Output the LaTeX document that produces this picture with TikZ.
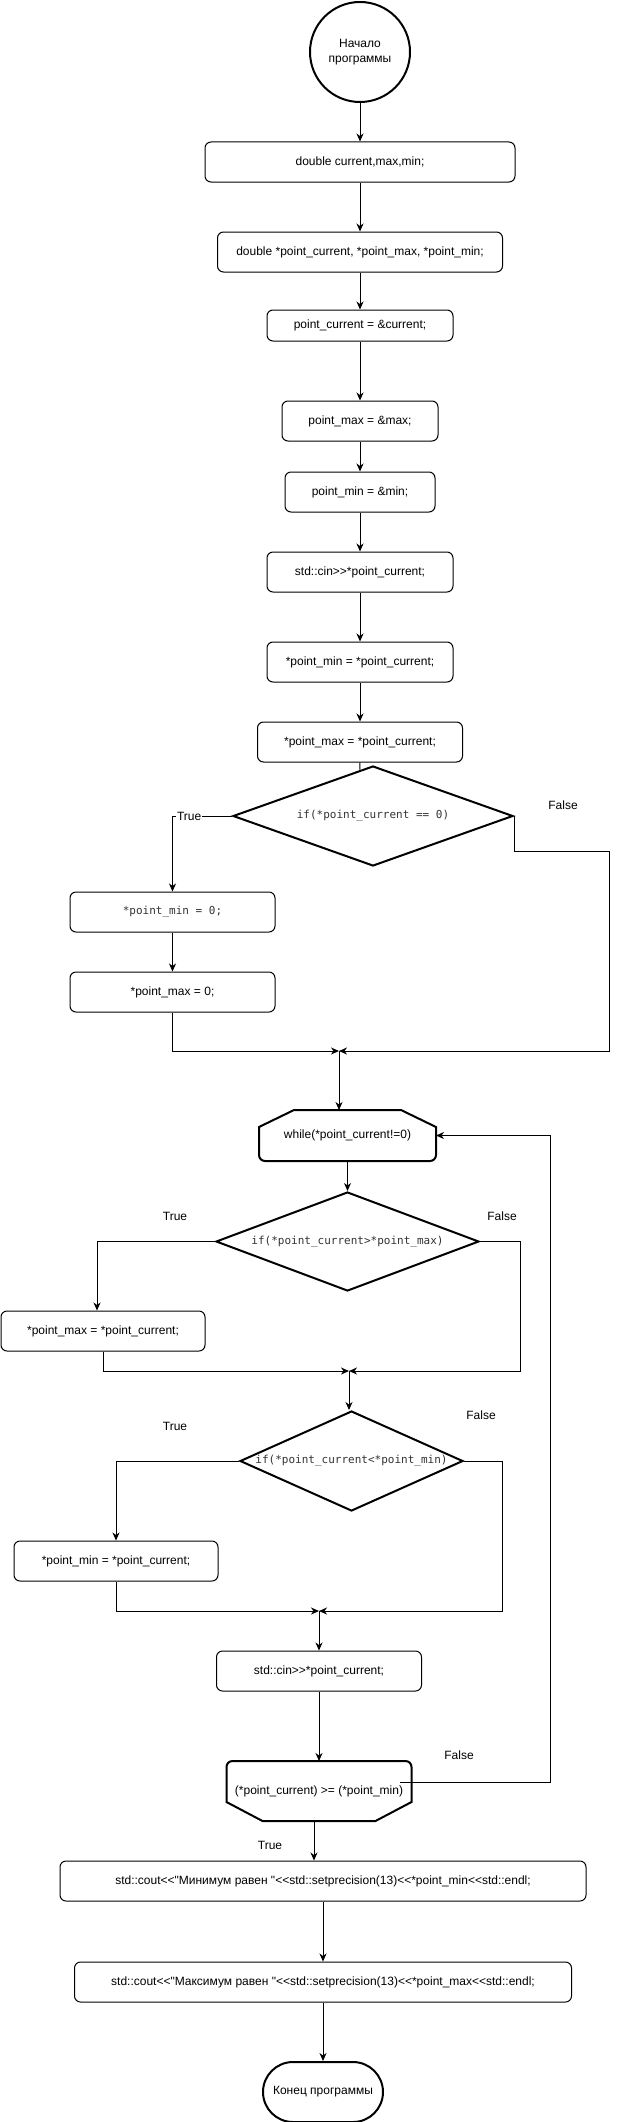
\documentclass[tikz,border=0pt]{standalone}
\usepackage{fontspec}
\setmainfont{Liberation Sans}[Ligatures=TeXOff]
\setmonofont{DejaVu Sans Mono}
\usepackage{tikz}
\usetikzlibrary{arrows.meta}
\usetikzlibrary{shapes.geometric}
\usetikzlibrary{calc}
\tikzset{
	>={Stealth[length=8pt,width=7pt,inset=2.5pt]}, %% block arrows as in the chart
    flow/.style={draw=black, line width=1pt},
    proc/.style={draw=black, line width=1pt, rounded corners=6pt, inner sep=0pt,
        minimum height=40pt, align=center, font=\fontsize{12}{15}\selectfont},
    cond/.style={draw=black, diamond, line width=2pt, inner sep=0pt,
        font=\fontsize{11}{13}\selectfont\ttfamily, text=black!80},
    term/.style={draw=black, line width=2pt, inner sep=0pt, align=center,
        font=\fontsize{12}{15}\selectfont},
    loopbox/.style={inner sep=0pt, outer sep=0pt, font=\fontsize{12}{15}\selectfont},
    limit/.style={draw=black, line width=2pt},
    lbl/.style={inner sep=1pt, font=\fontsize{12}{15}\selectfont},
}
\newcommand{\nowidth}[1]{\makebox[0pt]{#1}}

\begin{document}
\begin{tikzpicture}[x=1pt, y=-1pt]
\useasboundingbox (0,0) rectangle (619,2122);

\node[term, circle, minimum size=100pt] (start) at (360,52) {Начало\\программы};
\node[proc, minimum width=310pt] (dbl) at (360,162) {double current,max,min;};
\node[proc, minimum width=285pt] (ptrs) at (360,252) {double *point\_current, *point\_max, *point\_min;};
\node[proc, minimum width=186pt, minimum height=31pt] (pcur) at (360,325.5) {point\_current = \&current;};
\node[proc, minimum width=156pt] (pmax) at (360,421) {point\_max = \&max;};
\node[proc, minimum width=150pt] (pmin) at (360,492) {point\_min = \&min;};
\node[proc, minimum width=186pt] (cin1) at (360,572) {std::cin>>*point\_current;};
\node[proc, minimum width=186pt] (setmin) at (360,662) {*point\_min = *point\_current;};
\node[proc, minimum width=205pt] (setmax) at (360,742) {*point\_max = *point\_current;};

\node[cond, minimum width=280pt, minimum height=100pt] (if0) at (373,816) {\nowidth{if(*point\_current == 0)}};
\node[proc, minimum width=205pt, font=\fontsize{11}{13}\selectfont\ttfamily, text=black!80] (zmin) at (172.5,912) {*point\_min = 0;};
\node[proc, minimum width=205pt] (zmax) at (172.5,992) {*point\_max = 0;};
\coordinate (j1) at (339,1051);
\coordinate (f0) at (609,851);

\node[loopbox, minimum width=177pt, minimum height=51pt] (whl) at (347.5,1135.5) {while(*point\_current!=0)};
\draw[limit] (whl.east) [rounded corners=6pt] -- (whl.south east) -- (whl.south west) -- (whl.west) [sharp corners]
    -- ($(whl.north west)+(0,17)$) -- ($(whl.north west)+(35,0)$)
    -- ($(whl.north east)+(-35,0)$) -- ($(whl.north east)+(0,17)$) -- cycle;

\node[cond, minimum width=263pt, minimum height=99pt] (if1) at (347.5,1241.5) {\nowidth{if(*point\_current>*point\_max)}};
\node[proc, minimum width=204pt] (mx1) at (103,1331) {*point\_max = *point\_current;};
\coordinate (j2) at (349,1371);
\coordinate (f1) at (520,1371);

\node[cond, minimum width=223pt, minimum height=100pt] (if2) at (351.5,1461) {\nowidth{if(*point\_current<*point\_min)}};
\node[proc, minimum width=204pt] (mn1) at (116,1561) {*point\_min = *point\_current;};
\coordinate (j3) at (319,1611);
\coordinate (f2) at (502,1611);

\node[proc, minimum width=205pt] (cin2) at (319,1671) {std::cin>>*point\_current;};
\node[loopbox, minimum width=185pt, minimum height=60pt] (lend) at (319,1791) {(*point\_current) >= (*point\_min)};
\draw[limit] (lend.west) [rounded corners=6pt] -- (lend.north west) -- (lend.north east) -- (lend.east) [sharp corners]
    -- ($(lend.south east)+(0,-19)$) -- ($(lend.south east)+(-36,0)$)
    -- ($(lend.south west)+(36,0)$) -- ($(lend.south west)+(0,-19)$) -- cycle;
\coordinate (back) at (550,1135.5);
\coordinate (t) at ([xshift=-5pt]lend.south);

\node[proc, minimum width=526pt] (res1) at (323,1881) {std::cout<<"Минимум равен "<<std::setprecision(13)<<*point\_min<<std::endl;};
\node[proc, minimum width=497pt] (res2) at (323,1982) {std::cout<<"Максимум равен "<<std::setprecision(13)<<*point\_max<<std::endl;};
\node[term, rounded corners=30pt, minimum width=120pt, minimum height=60pt] (fin) at (323,2092) {Конец программы};

\draw[flow,->] (start) -- (dbl);
\draw[flow,->] (dbl) -- (ptrs);
\draw[flow,->] (ptrs) -- (pcur);
\draw[flow,->] (pcur) -- (pmax);
\draw[flow,->] (pmax) -- (pmin);
\draw[flow,->] (pmin) -- (cin1);
\draw[flow,->] (cin1) -- (setmin);
\draw[flow,->] (setmin) -- (setmax);
\draw[flow] (setmax.south) -- ($(if0.north)!.093!(if0.west)$);

\draw[flow,->] (if0.west) -| node[lbl, fill=white, pos=.36] {True} (zmin.north);
\draw[flow,->] (zmin) -- (zmax);
\draw[flow,->] (zmax.south) |- (j1);
\draw[flow,->] (if0.east) |- (f0) |- (j1);
\node[lbl] (no0) at (563,805) {False};
\draw[flow,->] (j1) -- (j1 |- whl.north);

\draw[flow,->] (whl) -- (if1);
\draw[flow,->] (if1.west) -| ([xshift=-6pt]mx1.north);
\draw[flow,->] (mx1.south) |- (j2);
\draw[flow,->] (if1.east) -| (f1) -- (j2);
\node[lbl] (yes1) at (175,1216) {True};
\node[lbl] (no1) at (502,1216) {False};
\draw[flow,->] (j2) -- (j2 |- if2.north);

\draw[flow,->] (if2.west) -| (mn1.north);
\draw[flow,->] (mn1.south) |- (j3);
\draw[flow,->] (if2.east) -| (f2) -- (j3);
\node[lbl] (yes2) at (175,1426) {True};
\node[lbl] (no2) at (481,1415) {False};
\draw[flow,->] (j3) -- (j3 |- cin2.north);

\draw[flow,->] (cin2) -- (lend);
\draw[flow,->] ([shift={(-12,-9)}]lend.east) -| (back) -- (whl.east);
\node[lbl] (no3) at (459,1755) {False};
\draw[flow,->] (t) -- (t |- res1.north);
\node[lbl] (yes3) at (270,1845) {True};
\draw[flow,->] (res1) -- (res2);
\draw[flow,->] (res2) -- (fin);
\end{tikzpicture}
\end{document}
